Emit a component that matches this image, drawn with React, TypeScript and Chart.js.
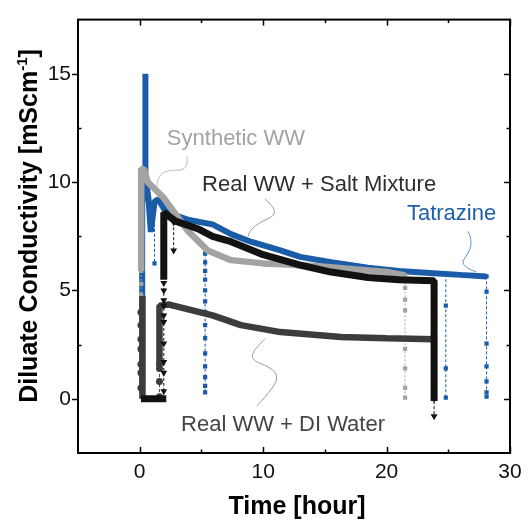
import React, { useEffect, useRef } from "react";
import { Chart, registerables } from "chart.js";
Chart.register(...registerables);

// ---------- axis ranges / ticks ----------
const xMin = -5, xMax = 30;
const yMin = -2.5, yMax = 17.5;
const xMajor = [0, 10, 20, 30];
const xMinor = [5, 15, 25];
const yMajor = [0, 5, 10, 15];
const yMinor = [2.5, 7.5, 12.5];

// ---------- Tatrazine ----------
const tatrazineTime = [0.2, 0.2, 0.42, 0.45, 0.45, 0.47, 0.7, 0.9, 1.2, 1.5, 2.1, 3.0, 4.0, 5.9, 7.4, 9.0, 11.4, 13.0, 15.5, 18.5, 21.0, 23.8, 26.0, 28.1];
const tatrazineValue = [0.5, 9.0, 10.3, 10.3, 15.0, 10.2, 9.3, 7.7, 9.1, 9.2, 8.65, 8.45, 8.25, 8.05, 7.6, 7.25, 6.85, 6.55, 6.3, 6.05, 5.9, 5.8, 5.72, 5.65];
const tatrazineDropTime = [1.2, 5.3, 24.8, 28.1];
const tatrazineDropValue = [
  [9.0, 6.25],
  [6.7, 6.3, 5.9, 5.5, 5.0, 4.5, 4.0, 3.4, 2.8, 2.1, 1.5, 1.0, 0.6, 0.3],
  [5.75, 4.3, 1.4, 0.05],
  [5.65, 4.95, 2.55, 1.5, 0.8, 0.3, 0.1],
];

// ---------- Synthetic WW ----------
const syntheticTime = [0.12, 0.12, 0.35, 0.65, 1.9, 3.9, 5.5, 7.4, 10.0, 12.0, 15.0, 18.0, 20.0, 21.3, 21.5];
const syntheticValue = [5.9, 10.6, 10.6, 10.0, 9.3, 7.75, 6.85, 6.4, 6.25, 6.2, 6.1, 5.95, 5.85, 5.72, 5.7];
const syntheticDropTime = [0.12, 21.5];
const syntheticDropValue = [
  [5.9, 5.3, 4.8, 4.1, 3.4, 2.6, 2.0],
  [5.7, 5.12, 4.58, 4.08, 2.3, 1.4, 0.5, 0.05],
];

// ---------- Real WW + Salt Mixture ----------
const saltTime = [0.1, 2.15, 2.0, 1.95, 1.95, 2.9, 4.7, 5.9, 7.4, 10.0, 12.8, 15.5, 18.5, 21.0, 23.85, 23.85];
const saltValue = [0, 0, null, 5.5, 8.6, 8.2, 7.85, 7.5, 7.25, 6.65, 6.2, 5.85, 5.6, 5.5, 5.45, -0.1];
const saltDropTime = [1.95, 2.75, 23.85];
const saltDropValue = [
  [5.35, 5.0, 4.55, 4.3, 3.85, 3.55, 2.55, 1.7, 1.2, 0.35],
  [8.15, 6.85],
  [5.2, 4.8, 4.4, 4.0, 3.6, 3.2, 2.8, 2.4, 2.0, 1.6, 1.2, 0.8, 0.4, 0.0, -0.8],
];

// ---------- Real WW + DI Water ----------
const diTime = [0.22, 0.22, 0.2, 1.6, 1.6, 2.4, 5.9, 8.2, 11.4, 16.3, 20.0, 23.85];
const diValue = [0, 4.75, null, 1.6, 4.3, 4.35, 3.85, 3.4, 3.08, 2.85, 2.8, 2.75];
const diDropTime = [0.1, 1.6];
const diDropValue = [
  [4.0, 3.4, 2.75, 2.3, 1.6, 1.2, 0.5],
  [1.6, 1.4, 0.8, 0.1],
];

// ---------- annotation labels (data coordinates) ----------
const labelText = ["Synthetic WW", "Real WW + Salt Mixture", "Tatrazine", "Real WW + DI Water"];
const labelTime = [2.2, 5.05, 21.65, 3.35];
const labelValue = [11.7, 9.6, 8.23, -1.5];
const labelColor = ["#a3a3a3", "#2e2e2e", "#1d5fa9", "#454545"];
// leader curves: [start, c1, c2, end, c1, c2, end] as [t, v]
const leaderPaths: number[][][] = [
  [[3.83, 11.18], [3.91, 10.82], [3.75, 10.55], [3.1, 10.55], [2.05, 10.55], [1.48, 10.45], [1.4, 9.82]],
  [[10.15, 9.23], [10.56, 9.0], [11.37, 8.64], [10.56, 8.36], [9.59, 8.09], [8.94, 7.91], [8.78, 7.5]],
  [[26.6, 7.73], [27.09, 7.18], [26.77, 6.82], [26.28, 6.45], [25.96, 6.18], [26.6, 6.0], [27.25, 5.86]],
  [[10.15, 2.77], [9.34, 2.27], [8.53, 1.91], [9.75, 1.64], [11.77, 1.18], [11.37, 0.82], [9.5, -0.32]],
];
const leaderColor = ["#b8b8b8", "#9a9a9a", "#5f93d3", "#9a9a9a"];

const BLUE = "#1a5ca8";
const GRAY = "#a3a3a3";
const BLACK = "#121212";
const DARK = "#3c3c3c";
const FONT = "Arial, 'Liberation Sans', sans-serif";

function toPoints(t: number[], v: (number | null)[]) {
  return t.map((x, i) => ({ x, y: v[i] }));
}
function dropsToPoints(times: number[], values: number[][]) {
  const pts: { x: number; y: number | null }[] = [];
  times.forEach((t, i) => {
    values[i].forEach((v) => pts.push({ x: t, y: v }));
    pts.push({ x: t, y: null });
  });
  return pts;
}

function mainDs(data: any, color: string, width: number, order: number) {
  return {
    data,
    showLine: true,
    borderColor: color,
    backgroundColor: color,
    borderWidth: width,
    borderJoinStyle: "bevel",
    borderCapStyle: "butt",
    pointRadius: 0,
    spanGaps: false,
    tension: 0,
    order,
  };
}
function dropDs(data: any, color: string, style: string, radius: number, dash: number[], order: number, rotation = 0) {
  return {
    data,
    showLine: true,
    borderColor: color,
    backgroundColor: color,
    borderWidth: 1,
    borderDash: dash,
    pointStyle: style,
    pointRadius: radius,
    pointRotation: rotation,
    pointBackgroundColor: color,
    pointBorderColor: color,
    pointBorderWidth: 0,
    spanGaps: false,
    tension: 0,
    order,
  };
}

const framePlugin = {
  id: "frameAndLabels",
  afterDatasetsDraw(chart: any) {
    const { ctx, scales } = chart;
    const xs = scales.x, ys = scales.y;
    const px = (t: number) => xs.getPixelForValue(t);
    const py = (v: number) => ys.getPixelForValue(v);
    ctx.save();
    leaderPaths.forEach((p, i) => {
      ctx.beginPath();
      ctx.strokeStyle = leaderColor[i];
      ctx.lineWidth = 1;
      ctx.moveTo(px(p[0][0]), py(p[0][1]));
      for (let k = 1; k + 2 < p.length; k += 3) {
        ctx.bezierCurveTo(px(p[k][0]), py(p[k][1]), px(p[k + 1][0]), py(p[k + 1][1]), px(p[k + 2][0]), py(p[k + 2][1]));
      }
      ctx.stroke();
    });
    ctx.font = `22px ${FONT}`;
    ctx.textBaseline = "alphabetic";
    ctx.textAlign = "left";
    labelText.forEach((txt, i) => {
      ctx.fillStyle = labelColor[i];
      ctx.fillText(txt, px(labelTime[i]), py(labelValue[i]));
    });
    ctx.restore();
  },
  afterDraw(chart: any) {
    const { ctx, chartArea: a, scales } = chart;
    const xs = scales.x, ys = scales.y;
    ctx.save();
    ctx.strokeStyle = "#000";
    ctx.lineWidth = 2;
    ctx.strokeRect(a.left, a.top, a.right - a.left, a.bottom - a.top);
    ctx.lineWidth = 1.5;
    const seg = (x1: number, y1: number, x2: number, y2: number) => {
      ctx.beginPath();
      ctx.moveTo(x1, y1);
      ctx.lineTo(x2, y2);
      ctx.stroke();
    };
    xMajor.forEach((v) => {
      const p = Math.round(xs.getPixelForValue(v)) + 0.5;
      seg(p, a.bottom, p, a.bottom - 6);
      seg(p, a.top, p, a.top + 6);
    });
    xMinor.forEach((v) => {
      const p = Math.round(xs.getPixelForValue(v)) + 0.5;
      seg(p, a.bottom, p, a.bottom - 3.5);
      seg(p, a.top, p, a.top + 3.5);
    });
    yMajor.forEach((v) => {
      const p = Math.round(ys.getPixelForValue(v)) + 0.5;
      seg(a.left, p, a.left - 6, p);
      seg(a.right, p, a.right - 6, p);
    });
    yMinor.forEach((v) => {
      const p = Math.round(ys.getPixelForValue(v)) + 0.5;
      seg(a.left, p, a.left + 3.5, p);
      seg(a.right, p, a.right - 3.5, p);
    });
    ctx.fillStyle = "#000";
    ctx.font = `bold 25px ${FONT}`;
    ctx.textAlign = "center";
    ctx.textBaseline = "alphabetic";
    ctx.fillText("Time [hour]", (a.left + a.right) / 2 + 3, 514);
    const main = "Diluate Conductivity [mScm";
    const sup = "-1";
    const end = "]";
    ctx.font = `bold 25px ${FONT}`;
    const w1 = ctx.measureText(main).width;
    const w3 = ctx.measureText(end).width;
    ctx.font = `bold 15px ${FONT}`;
    const w2 = ctx.measureText(sup).width;
    const total = w1 + w2 + w3;
    ctx.translate(37, 226);
    ctx.rotate(-Math.PI / 2);
    ctx.textAlign = "left";
    const x0 = -total / 2;
    ctx.font = `bold 25px ${FONT}`;
    ctx.fillText(main, x0, 0);
    ctx.font = `bold 15px ${FONT}`;
    ctx.fillText(sup, x0 + w1, -10);
    ctx.font = `bold 25px ${FONT}`;
    ctx.fillText(end, x0 + w1 + w2, 0);
    ctx.restore();
  },
};

export default function App() {
  const ref = useRef<HTMLCanvasElement>(null);
  useEffect(() => {
    if (!ref.current) return;
    const chart = new Chart(ref.current, {
      type: "scatter",
      data: {
        datasets: [
          mainDs(toPoints(saltTime, saltValue), BLACK, 7, 1),
          dropDs(dropsToPoints(saltDropTime, saltDropValue), BLACK, "triangle", 4, [3, 2], 2, 180),
          mainDs(toPoints(diTime, diValue), DARK, 6.5, 3),
          dropDs(dropsToPoints(diDropTime, diDropValue), DARK, "circle", 3.5, [3, 2], 4),
          mainDs(toPoints(syntheticTime, syntheticValue), GRAY, 6.5, 5),
          dropDs(dropsToPoints(syntheticDropTime, syntheticDropValue), GRAY, "rect", 3, [2, 2], 6),
          mainDs(toPoints(tatrazineTime, tatrazineValue), BLUE, 6, 7),
          dropDs(dropsToPoints(tatrazineDropTime, tatrazineDropValue), BLUE, "rect", 3, [3, 2], 8),
        ] as any,
      },
      options: {
        animation: false,
        responsive: false,
        events: [],
        layout: { padding: { left: 0, top: 13, right: 22, bottom: 0 } },
        plugins: { legend: { display: false }, tooltip: { enabled: false } },
        scales: {
          x: {
            type: "linear",
            min: xMin,
            max: xMax,
            grid: { display: false, drawTicks: false },
            border: { display: false },
            afterBuildTicks: (s: any) => {
              s.ticks = xMajor.map((v) => ({ value: v }));
            },
            ticks: {
              padding: 7,
              color: "#111",
              font: { family: FONT, size: 21 },
              maxRotation: 0,
              autoSkip: false,
            },
            afterFit: (s: any) => {
              s.height = 68;
            },
          },
          y: {
            type: "linear",
            min: yMin,
            max: yMax,
            grid: { display: false, drawTicks: false },
            border: { display: false },
            afterBuildTicks: (s: any) => {
              s.ticks = yMajor.map((v) => ({ value: v }));
            },
            ticks: {
              padding: 7,
              color: "#111",
              autoSkip: false,
              font: { family: FONT, size: 21 },
            },
            afterFit: (s: any) => {
              s.width = 78;
            },
          },
        },
      } as any,
      plugins: [framePlugin],
    });
    return () => chart.destroy();
  }, []);
  return (
    <div style={{ position: "absolute", left: 0, top: 0, width: 532, height: 521 }}>
      <canvas ref={ref} width={532} height={521} style={{ display: "block" }} />
    </div>
  );
}
